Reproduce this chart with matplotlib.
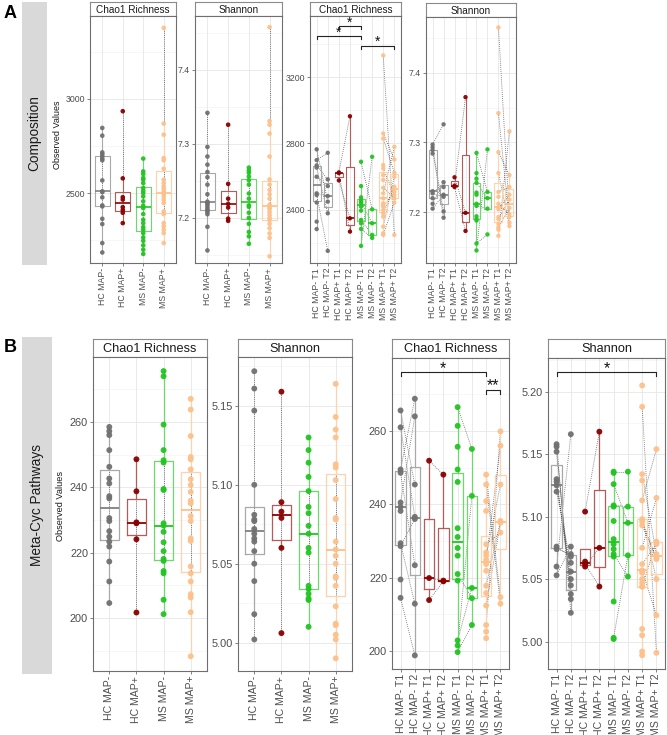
import matplotlib
matplotlib.use("Agg")
import matplotlib.pyplot as plt

plt.rcParams['font.family'] = ['Liberation Sans', 'DejaVu Sans']

# ---------------- DATA ----------------
labels4 = ["HC MAP-", "HC MAP+", "MS MAP-", "MS MAP+"]
labels8 = ["HC MAP- T1", "HC MAP- T2", "HC MAP+ T1", "HC MAP+ T2",
           "MS MAP- T1", "MS MAP- T2", "MS MAP+ T1", "MS MAP+ T2"]

# Panel A - Composition, Chao1
a_chao_hc_neg = [2846, 2805, 2716, 2707, 2695, 2683, 2674, 2567, 2509, 2505, 2477, 2434, 2429, 2363, 2335, 2234, 2184]
a_chao_hc_pos = [2935, 2578, 2478, 2465, 2425, 2410, 2395, 2340]
a_chao_ms_neg = [2683, 2615, 2601, 2580, 2571, 2553, 2527, 2512, 2500, 2482, 2456, 2433, 2420, 2388,
                 2358, 2340, 2319, 2305, 2287, 2264, 2246, 2222, 2199, 2176]
a_chao_ms_pos = [3378, 2869, 2810, 2686, 2674, 2629, 2571, 2553, 2535, 2523, 2509, 2495, 2482, 2465,
                 2447, 2402, 2388, 2340, 2323, 2305, 2287, 2234]
# Panel A - Composition, Shannon
a_sh_hc_neg = [7.342, 7.296, 7.283, 7.272, 7.262, 7.255, 7.245, 7.232, 7.222, 7.220, 7.218, 7.215,
               7.212, 7.210, 7.208, 7.205, 7.188, 7.156]
a_sh_hc_pos = [7.326, 7.246, 7.226, 7.219, 7.214, 7.199, 7.196]
a_sh_ms_neg = [7.268, 7.264, 7.261, 7.256, 7.251, 7.245, 7.233, 7.226, 7.217, 7.215, 7.207, 7.200,
               7.192, 7.181, 7.175, 7.165]
a_sh_ms_pos = [7.458, 7.331, 7.326, 7.314, 7.283, 7.252, 7.245, 7.238, 7.232, 7.226, 7.218, 7.214,
               7.212, 7.208, 7.204, 7.200, 7.197, 7.192, 7.186, 7.179, 7.173, 7.148]
# Panel A - paired Chao1 (first entries of T1/T2 are the paired subjects)
a3_hc_neg_t1 = [2765, 2700, 2668, 2655, 2600, 2500, 2490, 2445, 2330, 2285]
a3_hc_neg_t2 = [2450, 2744, 2584, 2380, 2544, 2484, 2154]
a3_hc_pos_t1 = [2626, 2578, 2622]
a3_hc_pos_t2 = [2964, 2350, 2270]
a3_ms_neg_t1 = [2184, 2690, 2444, 2340, 2286, 2544, 2476, 2460, 2450, 2420, 2396, 2320]
a3_ms_neg_t2 = [2720, 2404, 2320, 2250, 2232]
a3_ms_pos_t1 = [3330, 2860, 2830, 2500, 2300, 2250, 2420, 2650, 2380, 2534, 2260, 2360, 2400,
                2430, 2440, 2470, 2580, 2610, 2670]
a3_ms_pos_t2 = [2250, 2704, 2624, 2780, 2600, 2444, 2510, 2490, 2540, 2470]
# Panel A - paired Shannon
a4_hc_neg_t1 = [7.297, 7.289, 7.293, 7.230, 7.212, 7.205, 7.227, 7.284, 7.220]
a4_hc_neg_t2 = [7.326, 7.192, 7.201, 7.236, 7.243, 7.225, 7.222]
a4_hc_pos_t1 = [7.250, 7.238, 7.236]
a4_hc_pos_t2 = [7.199, 7.365, 7.173]
a4_ms_neg_t1 = [7.145, 7.155, 7.285, 7.242, 7.209, 7.256, 7.248, 7.228, 7.225, 7.212, 7.194, 7.190, 7.188]
a4_ms_neg_t2 = [7.290, 7.168, 7.229, 7.220, 7.205]
a4_ms_pos_t1 = [7.465, 7.166, 7.342, 7.286, 7.256, 7.229, 7.204, 7.190, 7.178, 7.212, 7.222,
                7.207, 7.193, 7.183, 7.175]
a4_ms_pos_t2 = [7.193, 7.316, 7.185, 7.253, 7.180, 7.236, 7.225, 7.218, 7.206, 7.197]

# Panel B - Meta-Cyc Pathways, Chao1
b_chao_hc_neg = [258.5, 257.2, 256.0, 251.4, 246.3, 242.7, 241.2, 237.3, 236.6, 230.6, 229.7, 226.6,
                 224.9, 223.4, 221.9, 217.3, 211.2, 204.6]
b_chao_hc_pos = [248.6, 238.8, 229.3, 229.0, 224.1, 201.7]
b_chao_ms_neg = [275.6, 274.0, 259.2, 251.4, 248.3, 247.6, 239.5, 239.2, 229.0, 228.3, 226.4, 223.2,
                 220.5, 218.1, 217.5, 214.4, 213.7, 205.6, 201.2]
b_chao_ms_pos = [267.1, 263.8, 255.7, 249.3, 248.6, 245.5, 242.5, 240.7, 238.6, 235.9, 235.1, 231.2,
                 229.7, 224.4, 223.6, 215.8, 213.7, 211.2, 207.3, 206.3, 201.8, 188.3]
# Panel B - Shannon
b_sh_hc_neg = [5.172, 5.161, 5.147, 5.100, 5.081, 5.078, 5.077, 5.072, 5.069, 5.066, 5.064, 5.058,
               5.050, 5.039, 5.018, 5.002]
b_sh_hc_pos = [5.159, 5.089, 5.083, 5.079, 5.060, 5.006]
b_sh_ms_neg = [5.130, 5.122, 5.114, 5.105, 5.096, 5.086, 5.082, 5.074, 5.069, 5.060, 5.057, 5.036,
               5.034, 5.031, 5.028, 5.027, 5.010]
b_sh_ms_pos = [5.164, 5.143, 5.135, 5.130, 5.113, 5.111, 5.103, 5.091, 5.079, 5.078, 5.064, 5.059,
               5.055, 5.050, 5.042, 5.041, 5.036, 5.023, 5.012, 5.011, 5.005, 5.002, 4.990]
# Panel B - paired Chao1
b3_hc_neg_t1 = [265.6, 261.0, 249.5, 248.6, 240.5, 229.4, 228.6, 214.5, 239.3, 238.2, 219.5]
b3_hc_neg_t2 = [245.4, 236.6, 268.8, 223.4, 264.0, 212.9, 236.0, 198.8]
b3_hc_pos_t1 = [251.9, 213.9, 219.9]
b3_hc_pos_t2 = [248.1, 219.0, 219.2]
b3_ms_neg_t1 = [266.5, 199.7, 201.5, 202.9, 221.0, 261.4, 255.7, 249.5, 246.1, 233.5, 231.1, 228.1, 226.0, 219.2]
b3_ms_neg_t2 = [255.1, 207.1, 242.3, 217.2, 214.4]
b3_ms_pos_t1 = [248.1, 245.4, 207.1, 224.9, 226.0, 217.8, 229.1, 212.4, 240.9, 238.2, 223.7, 221.9,
                215.8, 205.3, 203.5, 226.9]
b3_ms_pos_t2 = [214.7, 212.9, 259.9, 256.0, 245.4, 235.5, 232.3, 235.0]
# Panel B - paired Shannon
b4_hc_neg_t1 = [5.060, 5.158, 5.156, 5.152, 5.130, 5.128, 5.125, 5.120, 5.076, 5.074, 5.053]
b4_hc_neg_t2 = [5.166, 5.023, 5.034, 5.038, 5.045, 5.050, 5.056, 5.063, 5.068, 5.070, 5.076]
b4_hc_pos_t1 = [5.104, 5.062, 5.060, 5.064]
b4_hc_pos_t2 = [5.168, 5.044, 5.075]
b4_ms_neg_t1 = [5.136, 5.126, 5.003, 5.109, 5.070, 5.135, 5.108, 5.0965, 5.082, 5.078, 5.074, 5.068, 5.032, 5.002]
b4_ms_neg_t2 = [5.136, 5.095, 5.069, 5.108, 5.052]
b4_ms_pos_t1 = [5.188, 5.093, 5.096, 5.098, 5.134, 5.062, 5.044, 5.113, 5.057, 5.075, 5.205, 5.129,
                5.056, 5.055, 5.050, 5.047, 5.044, 5.010, 5.005, 4.992, 4.989]
b4_ms_pos_t2 = [4.991, 5.067, 5.066, 5.050, 5.070, 5.078, 5.080, 5.154, 5.021, 5.115]

# significance brackets: (group_from, group_to, height, label)
a3_sig = [(1, 5, 3444, "*"), (3, 5, 3504, "*"), (5, 8, 3386, "*")]
b3_sig = [(1, 7, 276.0, "*"), (7, 8, 271.2, "**")]
b4_sig = [(1, 8, 5.2155, "*")]

# ---------------- STYLE ----------------
PT = {"gray": "#707070", "red": "#8b0000", "green": "#22c422", "orange": "#fdc08a"}
BX = {"gray": "#a8a8a8", "red": "#b65a5a", "green": "#6cd96c", "orange": "#fdd3ad"}
MD = {"gray": "#808080", "red": "#8b0000", "green": "#22c422", "orange": "#fdc08a"}
cols4 = ["gray", "red", "green", "orange"]
cols8 = ["gray", "gray", "red", "red", "green", "green", "orange", "orange"]

W, H = 667, 735
fig = plt.figure(figsize=(W / 100, H / 100), dpi=100)


def rect(x0, x1, y0, y1):
    return [x0 / W, 1 - y1 / H, (x1 - x0) / W, (y1 - y0) / H]


def panel(xr, ystrip, yplot, title, groups, cols, labels, ylim, major, minor, fmt,
          pairs=None, sig=None, tsize=7.2, ysize=6.3, xsize=6.3, ps=11, lw=0.8, ssize=10):
    x0, x1 = xr
    sax = fig.add_axes(rect(x0, x1, ystrip, yplot[0]))
    sax.set_facecolor("white")
    sax.set_xticks([]); sax.set_yticks([])
    for s in sax.spines.values():
        s.set_color("#8a8a8a"); s.set_linewidth(0.8)
    sax.text(0.5, 0.45, title, ha="center", va="center", fontsize=tsize, color="#1a1a1a")

    ax = fig.add_axes(rect(x0, x1, yplot[0], yplot[1]))
    n = len(groups)
    ax.set_xlim(0.4, n + 0.6)
    ax.set_ylim(*ylim)
    ax.set_facecolor("white")
    for s in ax.spines.values():
        s.set_color("#6e6e6e"); s.set_linewidth(0.8)
    for v in major:
        ax.axhline(v, color="#e6e6e6", lw=0.6, zorder=0)
    for v in minor:
        ax.axhline(v, color="#f2f2f2", lw=0.4, zorder=0)
    for i in range(n):
        ax.axvline(i + 1, color="#e6e6e6", lw=0.6, zorder=0)

    if pairs is None:
        for i, vals in enumerate(groups):
            ax.plot([i + 1, i + 1], [min(vals), max(vals)], ls=(0, (1, 1.2)),
                    color="#555555", lw=0.7, alpha=0.8, zorder=1)
    else:
        for g1, g2 in pairs:
            for a, b in zip(groups[g1], groups[g2]):
                ax.plot([g1 + 1, g2 + 1], [a, b], ls=(0, (1, 1.5)),
                        color="#3a3a3a", lw=0.6, alpha=0.8, zorder=1)

    for i, vals in enumerate(groups):
        c = cols[i]
        ax.boxplot([vals], positions=[i + 1], widths=0.72, whis=1.5, showfliers=False,
                   showcaps=False, manage_ticks=False,
                   boxprops=dict(color=BX[c], lw=lw),
                   whiskerprops=dict(color=BX[c], lw=lw),
                   medianprops=dict(color=MD[c], lw=lw + 0.4),
                   zorder=2)
        ax.scatter([i + 1] * len(vals), vals, s=ps, color=PT[c], edgecolors="none",
                   alpha=0.95, zorder=3)

    if sig:
        span = ylim[1] - ylim[0]
        for g1, g2, h, lab in sig:
            d = span * 0.012
            ax.plot([g1, g1, g2, g2], [h - d, h, h, h - d], color="#222222", lw=0.8,
                    zorder=4, clip_on=False)
            ax.text((g1 + g2) / 2, h - span * 0.012, lab, ha="center", va="bottom",
                    fontsize=ssize, color="#111111")

    ax.set_yticks(major)
    ax.set_yticklabels([fmt.format(v) for v in major], fontsize=ysize, color="#4d4d4d")
    ax.set_xticks(range(1, n + 1))
    ax.set_xticklabels(labels, rotation=90, fontsize=xsize, color="#4d4d4d")
    ax.tick_params(axis="both", length=2, width=0.6, color="#6e6e6e", pad=1.5)
    return ax


# ---- Row A ----
panel((90, 176), 2, (16, 263), "Chao1 Richness",
      [a_chao_hc_neg, a_chao_hc_pos, a_chao_ms_neg, a_chao_ms_pos], cols4, labels4,
      (2128, 3441), [2500, 3000], [2250, 2750, 3250], "{:.0f}")
panel((195, 282), 2, (16, 263), "Shannon",
      [a_sh_hc_neg, a_sh_hc_pos, a_sh_ms_neg, a_sh_ms_pos], cols4, labels4,
      (7.139, 7.473), [7.2, 7.3, 7.4], [7.15, 7.25, 7.35, 7.45], "{:.1f}")
panel((310, 401), 2, (16, 263), "Chao1 Richness",
      [a3_hc_neg_t1, a3_hc_neg_t2, a3_hc_pos_t1, a3_hc_pos_t2,
       a3_ms_neg_t1, a3_ms_neg_t2, a3_ms_pos_t1, a3_ms_pos_t2], cols8, labels8,
      (2081, 3567), [2400, 2800, 3200], [2200, 2600, 3000, 3400],
      "{:.0f}", pairs=[(0, 1), (2, 3), (4, 5), (6, 7)], sig=a3_sig, ps=10)
panel((426, 516), 3, (17, 263), "Shannon",
      [a4_hc_neg_t1, a4_hc_neg_t2, a4_hc_pos_t1, a4_hc_pos_t2,
       a4_ms_neg_t1, a4_ms_neg_t2, a4_ms_pos_t1, a4_ms_pos_t2], cols8, labels8,
      (7.127, 7.48), [7.2, 7.3, 7.4], [7.15, 7.25, 7.35, 7.45],
      "{:.1f}", pairs=[(0, 1), (2, 3), (4, 5), (6, 7)], ps=10)

# ---- Row B ----
BK = dict(tsize=9.2, ysize=7.9, xsize=7.6, ps=18, lw=0.9, ssize=11.5)
panel((93, 207), 339, (357, 671), "Chao1 Richness",
      [b_chao_hc_neg, b_chao_hc_pos, b_chao_ms_neg, b_chao_ms_pos], cols4, labels4,
      (183.8, 279.9), [200, 220, 240, 260], [190, 210, 230, 250, 270], "{:.0f}", **BK)
panel((238, 352), 339, (357, 671), "Shannon",
      [b_sh_hc_neg, b_sh_hc_pos, b_sh_ms_neg, b_sh_ms_pos], cols4, labels4,
      (4.982, 5.181), [5.00, 5.05, 5.10, 5.15], [5.025, 5.075, 5.125, 5.175], "{:.2f}", **BK)
panel((392, 509), 339, (358, 669), "Chao1 Richness",
      [b3_hc_neg_t1, b3_hc_neg_t2, b3_hc_pos_t1, b3_hc_pos_t2,
       b3_ms_neg_t1, b3_ms_neg_t2, b3_ms_pos_t1, b3_ms_pos_t2], cols8, labels8,
      (195.1, 279.9), [200, 220, 240, 260], [210, 230, 250, 270], "{:.0f}",
      pairs=[(0, 1), (2, 3), (4, 5), (6, 7)], sig=b3_sig, **BK)
panel((548, 665), 339, (358, 669), "Shannon",
      [b4_hc_neg_t1, b4_hc_neg_t2, b4_hc_pos_t1, b4_hc_pos_t2,
       b4_ms_neg_t1, b4_ms_neg_t2, b4_ms_pos_t1, b4_ms_pos_t2], cols8, labels8,
      (4.978, 5.227), [5.00, 5.05, 5.10, 5.15, 5.20], [5.025, 5.075, 5.125, 5.175, 5.225], "{:.2f}",
      pairs=[(0, 1), (2, 3), (4, 5), (6, 7)], sig=b4_sig, **BK)

# ---- side strips and labels ----
for (y0, y1, txt) in [(2, 265, "Composition"), (337, 674, "Meta-Cyc Pathways")]:
    x1 = 47 if y0 < 100 else 52
    sx = fig.add_axes(rect(22, x1, y0, y1))
    sx.set_facecolor("#d9d9d9")
    sx.set_xticks([]); sx.set_yticks([])
    for s in sx.spines.values():
        s.set_visible(False)
    sx.text(0.5, 0.5, txt, rotation=90, ha="center", va="center", fontsize=9.8, color="#1a1a1a")

fig.text(57 / W, 1 - 135 / H, "Observed Values", rotation=90, ha="center", va="center",
         fontsize=6.5, color="#1a1a1a")
fig.text(60 / W, 1 - 506 / H, "Observed Values", rotation=90, ha="center", va="center",
         fontsize=6.6, color="#1a1a1a")
fig.text(10 / W, 1 - 13 / H, "A", ha="center", va="center", fontsize=13, fontweight="bold")
fig.text(10 / W, 1 - 348 / H, "B", ha="center", va="center", fontsize=13, fontweight="bold")

fig.savefig("out.png", dpi=100)
